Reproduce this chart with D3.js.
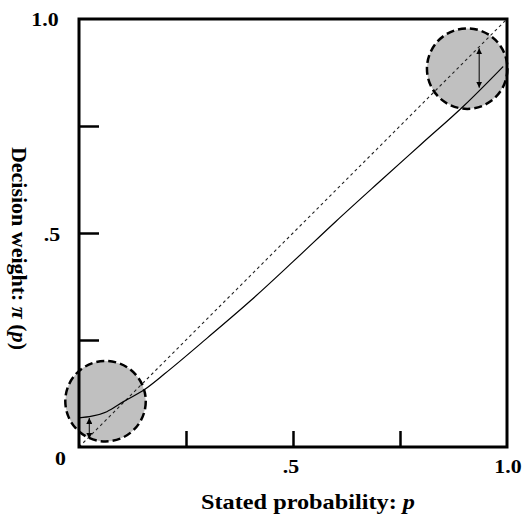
<!DOCTYPE html>
<html>
<head>
<meta charset="utf-8">
<script src="https://cdn.jsdelivr.net/npm/d3@7"></script>
<style>
  html, body { margin: 0; padding: 0; background: #fff; }
  svg { display: block; }
  text { font-family: "Liberation Serif", "Times New Roman", serif; font-weight: bold; fill: #000; }
</style>
</head>
<body>
<svg id="chart" width="530" height="514"></svg>
<script>
// ---- data ----
const curveP = [0, 0.03, 0.065, 0.104, 0.154, 0.2, 0.3, 0.4, 0.5, 0.6, 0.7, 0.8, 0.9, 0.991];
const curveW = [0.068, 0.072, 0.0825, 0.106, 0.135, 0.171, 0.255, 0.341, 0.433, 0.527, 0.618, 0.708, 0.798, 0.889];
const diagonal = [0, 1];
const circleP = [0.062, 0.907];
const circleW = [0.107, 0.884];
const circleR = [0.094, 0.094];
const arrowP = [0.024, 0.935];
const arrowFrom = [0.068, 0.9316];
const arrowTo = [0.019, 0.8395];
const tickVals = [0.25, 0.5, 0.75];
const xTickLabels = ["0", ".5", "1.0"];
const yTickLabels = [".5", "1.0"];
const xTitle = "Stated probability: ";
const xTitleVar = "p";
const yTitle = "Decision weight: ";

// ---- layout ----
const svg = d3.select("#chart");
const L = 79, T = 19, S = 428;
const x = d3.scaleLinear().domain([0, 1]).range([L, L + S]);
const y = d3.scaleLinear().domain([0, 1]).range([T + S, T]);

// defs: arrowheads
const defs = svg.append("defs");
["start", "end"].forEach(k => {
  defs.append("marker")
    .attr("id", "arr-" + k)
    .attr("viewBox", "0 0 10 10")
    .attr("refX", 10).attr("refY", 5)
    .attr("markerWidth", 6).attr("markerHeight", 6)
    .attr("markerUnits", "userSpaceOnUse")
    .attr("orient", k === "start" ? "auto-start-reverse" : "auto")
    .append("path").attr("d", "M0,0 L10,5 L0,10 z").attr("fill", "#000");
});

// circles
svg.append("g").selectAll("circle")
  .data(circleP.map((p, i) => ({p, w: circleW[i], r: circleR[i]})))
  .join("circle")
  .attr("cx", d => x(d.p))
  .attr("cy", d => y(d.w))
  .attr("r", d => x(d.r) - x(0))
  .attr("fill", "#c0c0c0")
  .attr("stroke", "#000")
  .attr("stroke-width", 2.5)
  .attr("stroke-dasharray", "8,4");

// diagonal dashed line
svg.append("line")
  .attr("x1", x(diagonal[0])).attr("y1", y(diagonal[0]))
  .attr("x2", x(diagonal[1])).attr("y2", y(diagonal[1]))
  .attr("stroke", "#222").attr("stroke-width", 1.1)
  .attr("stroke-dasharray", "3,3");

// weighting curve
const line = d3.line().x(d => x(d[0])).y(d => y(d[1])).curve(d3.curveMonotoneX);
svg.append("path")
  .datum(curveP.map((p, i) => [p, curveW[i]]))
  .attr("d", line)
  .attr("fill", "none")
  .attr("stroke", "#000")
  .attr("stroke-width", 1.2);

// double arrows
svg.append("g").selectAll("line")
  .data(arrowP.map((p, i) => ({p, a: arrowFrom[i], b: arrowTo[i]})))
  .join("line")
  .attr("x1", d => x(d.p)).attr("y1", d => y(d.a))
  .attr("x2", d => x(d.p)).attr("y2", d => y(d.b))
  .attr("stroke", "#000").attr("stroke-width", 1)
  .attr("marker-start", "url(#arr-start)")
  .attr("marker-end", "url(#arr-end)");

// frame
svg.append("rect")
  .attr("x", x(0)).attr("y", y(1))
  .attr("width", x(1) - x(0)).attr("height", y(0) - y(1))
  .attr("fill", "none").attr("stroke", "#000").attr("stroke-width", 3);

// inward ticks using axes
const xAxis = d3.axisBottom(x).tickValues(tickVals).tickSize(16).tickFormat("");
svg.append("g")
  .attr("transform", `translate(0,${y(0) - 16})`)
  .call(xAxis)
  .call(g => g.select(".domain").remove())
  .call(g => g.selectAll(".tick line").attr("stroke", "#000").attr("stroke-width", 2.5));
const yAxis = d3.axisLeft(y).tickValues(tickVals).tickSize(20).tickFormat("");
svg.append("g")
  .attr("transform", `translate(${x(0) + 20},0)`)
  .call(yAxis)
  .call(g => g.select(".domain").remove())
  .call(g => g.selectAll(".tick line").attr("stroke", "#000").attr("stroke-width", 2.5));

// tick labels (horizontally stretched like the reference)
const fs = 19, sx = 1.15;
function label(cx, by, txt) {
  svg.append("g").attr("transform", `translate(${cx},${by}) scale(${sx},1)`)
    .append("text").attr("text-anchor", "middle").attr("font-size", fs).text(txt);
}
label(60.5, 465, xTickLabels[0]);
label(291, 473, xTickLabels[1]);
label(508, 473, xTickLabels[2]);
label(52, 241, yTickLabels[0]);
label(45, 26, yTickLabels[1]);

// axis titles
const xt = svg.append("text").attr("x", 308).attr("y", 509)
  .attr("text-anchor", "middle").attr("font-size", 21)
  .attr("textLength", 214).attr("lengthAdjust", "spacingAndGlyphs");
xt.append("tspan").text(xTitle);
xt.append("tspan").attr("font-style", "italic").text(xTitleVar);

const yt = svg.append("text")
  .attr("transform", `translate(12,248.5) rotate(90)`)
  .attr("text-anchor", "middle").attr("font-size", 20)
  .attr("textLength", 203).attr("lengthAdjust", "spacingAndGlyphs");
yt.append("tspan").text(yTitle);
yt.append("tspan").attr("font-style", "italic").text("π");
yt.append("tspan").text(" (");
yt.append("tspan").attr("font-style", "italic").text("p");
yt.append("tspan").text(")");
</script>
</body>
</html>
